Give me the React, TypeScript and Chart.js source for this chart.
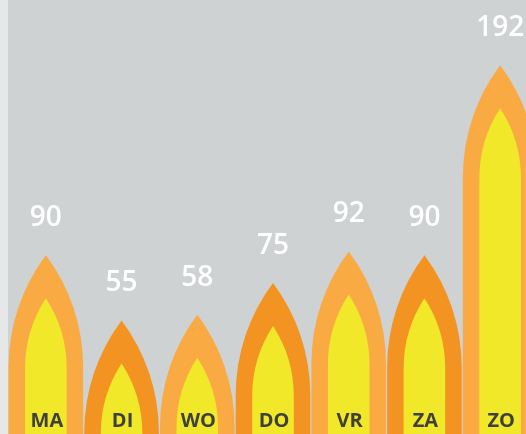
import React, { useEffect, useRef } from "react";
import { Chart, registerables } from "chart.js";

Chart.register(...registerables);

const categories = ["MA", "DI", "WO", "DO", "VR", "ZA", "ZO"];
const visitors = [90, 55, 58, 75, 92, 90, 192];
const outerColors = ["#F9AA42", "#F39322", "#F9AA42", "#F39322", "#F9AA42", "#F39322", "#F9AA42"];
const innerColor = "#F1E829";

function flamePath(ctx: CanvasRenderingContext2D, cx: number, a: number, tip: number, h: number, bottom: number) {
  const r = (h * h + a * a) / (2 * a);
  const spring = tip + h;
  const alpha = Math.atan2(h, r - a);
  ctx.beginPath();
  ctx.moveTo(cx - a, bottom);
  ctx.lineTo(cx - a, spring);
  ctx.arc(cx - a + r, spring, r, Math.PI, Math.PI + alpha, false);
  ctx.arc(cx + a - r, spring, r, -alpha, 0, false);
  ctx.lineTo(cx + a, bottom);
  ctx.closePath();
}

const flamePlugin = {
  id: "flames",
  afterDatasetsDraw(chart: any) {
    const ctx: CanvasRenderingContext2D = chart.ctx;
    const meta = chart.getDatasetMeta(0);
    const area = chart.chartArea;
    ctx.save();
    meta.data.forEach((el: any, i: number) => {
      const p = el.getProps(["x", "y", "base", "width"], true);
      const cx = p.x;
      const a = p.width / 2;
      const tip = p.y;
      const bottom = Math.max(p.base, area.bottom);
      ctx.fillStyle = outerColors[i];
      flamePath(ctx, cx, a, tip, 112, bottom);
      ctx.fill();
      ctx.fillStyle = innerColor;
      flamePath(ctx, cx, a - 16.5, tip + 43, 70, bottom);
      ctx.fill();

      ctx.textAlign = "center";
      ctx.textBaseline = "alphabetic";
      ctx.fillStyle = "#FFFFFF";
      ctx.font = "600 28px 'Open Sans'";
      ctx.fillText(String(chart.data.datasets[0].data[i]), cx, tip - 29);

      ctx.fillStyle = "#3E403C";
      ctx.font = "700 20px 'Open Sans'";
      ctx.fillText(String(chart.data.labels[i]), cx + 1, area.bottom - 7);
    });
    ctx.restore();
  },
};

export default function App() {
  const ref = useRef<HTMLCanvasElement | null>(null);
  useEffect(() => {
    if (!ref.current) return;
    const chart = new Chart(ref.current, {
      type: "bar",
      data: {
        labels: categories,
        datasets: [
          {
            data: visitors,
            backgroundColor: "rgba(0,0,0,0)",
            borderWidth: 0,
            base: -6,
            barPercentage: 0.985,
            categoryPercentage: 1,
          },
        ],
      },
      options: {
        responsive: false,
        animation: false,
        devicePixelRatio: 1,
        layout: { padding: 0 },
        plugins: { legend: { display: false }, tooltip: { enabled: false } },
        scales: {
          x: { display: false, offset: true, grid: { display: false } },
          y: { display: false, min: -6, max: 227, grid: { display: false } },
        },
      },
      plugins: [flamePlugin],
    });
    return () => chart.destroy();
  }, []);
  return (
    <div style={{ position: "fixed", left: 0, top: 0, width: 526, height: 434, background: "#E6E8E7", overflow: "hidden" }}>
      <div style={{ position: "absolute", left: 8, top: 0, width: 518, height: 434, background: "#CED2D3", overflow: "hidden" }}>
        <canvas ref={ref} width={530} height={434} style={{ display: "block", width: 530, height: 434 }} />
      </div>
    </div>
  );
}
